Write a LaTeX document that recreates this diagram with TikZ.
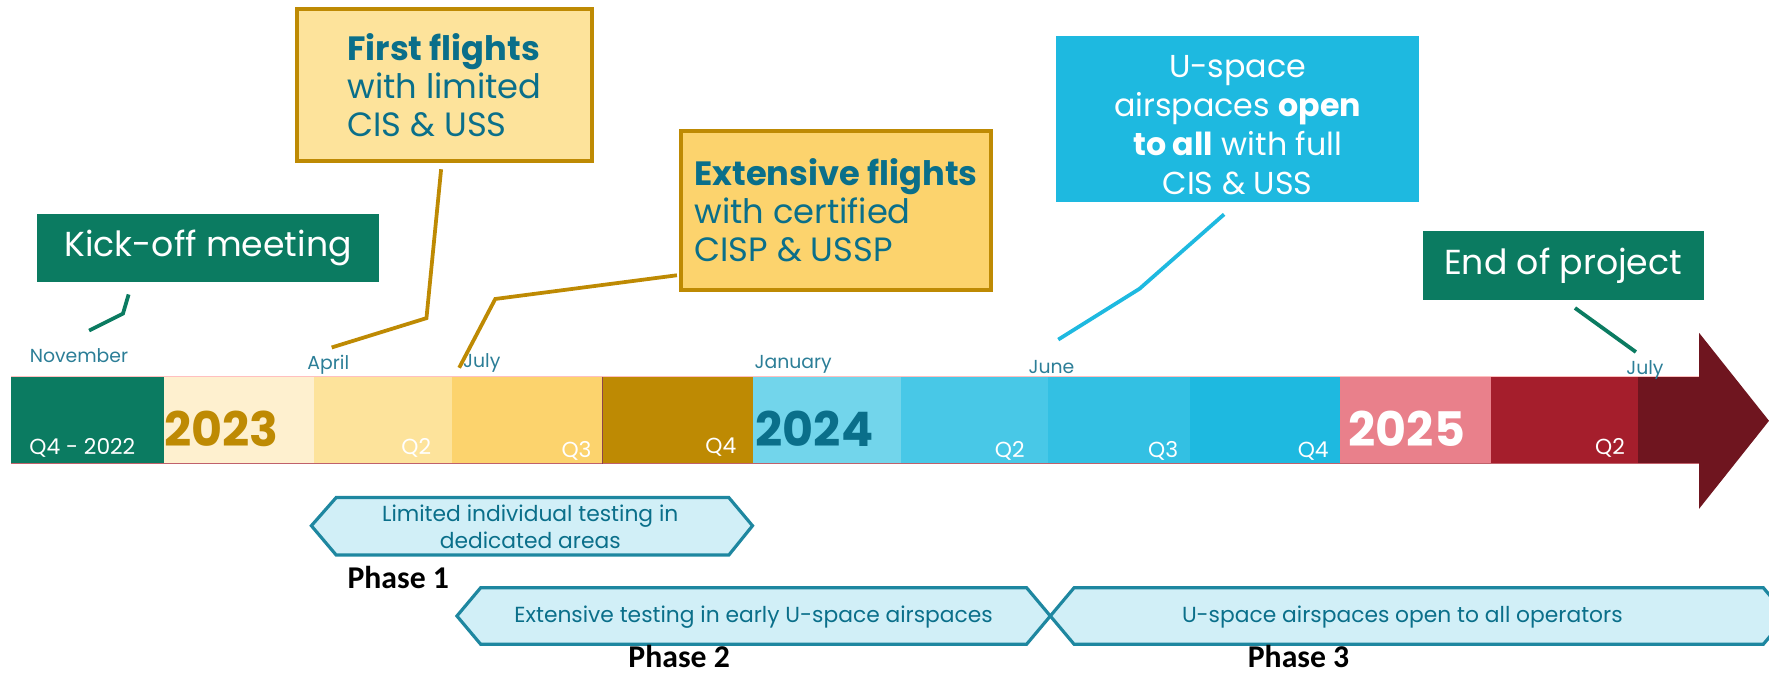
\documentclass[tikz,border=0pt]{standalone}
\usepackage{fontspec}
\setmainfont{Poppins}
\newfontfamily\phasefont{Carlito}
\usetikzlibrary{%
  calc,%
  positioning%
}
\definecolor{kgreen}{HTML}{0B7B61}
\definecolor{kgold}{HTML}{BE8A03}
\definecolor{ya}{HTML}{FEF0CF}
\definecolor{yb}{HTML}{FDE39B}
\definecolor{yc}{HTML}{FCD36D}
\definecolor{ba}{HTML}{72D5EB}
\definecolor{bb}{HTML}{48C8E7}
\definecolor{bc}{HTML}{33C0E3}
\definecolor{bd}{HTML}{1EB9E0}
\definecolor{ra}{HTML}{E9808B}
\definecolor{rb}{HTML}{A51E2C}
\definecolor{rc}{HTML}{6F151F}
\definecolor{kteal}{HTML}{0A6F8A}
\definecolor{mteal}{HTML}{2C7E97}
\definecolor{hexfill}{HTML}{D1EFF7}
\definecolor{hexline}{HTML}{1E87A0}
\tikzset{
  month/.style={text=mteal, font=\fontsize{9.5}{10}\selectfont, inner sep=0},
  qlabel/.style={text=white, font=\fontsize{11}{12}\selectfont, inner sep=0},
  year/.style={font=\fontsize{24}{25}\selectfont\bfseries, inner sep=0},
  greenbox/.style={fill=kgreen, text=white, font=\fontsize{17.5}{18}\selectfont},
  goldbox/.style={fill=#1, draw=kgold, line width=2pt, text=kteal, align=left,
    font=\fontsize{17}{19.3}\selectfont},
  callout/.style={line width=1.9pt},
  hex/.style={fill=hexfill, draw=hexline, line width=1.6pt},
  hextext/.style={text=kteal, align=center, font=\fontsize{11}{13.6}\selectfont},
  phase/.style={font=\phasefont\fontsize{16}{18}\selectfont\bfseries}
}
\begin{document}
\begin{tikzpicture}[x=0.02cm,y=-0.02cm]
\useasboundingbox (0,0) rectangle (1568,597);
\fill[kgreen] (10,334) rectangle (145,411);
\fill[ya] (145,334) rectangle (278,411);
\fill[yb] (278,334) rectangle (401,411);
\fill[yc] (401,334) rectangle (534,411);
\fill[kgold] (534,334) rectangle (667,411);
\fill[ba] (667,334) rectangle (799,411);
\fill[bb] (799,334) rectangle (929,411);
\fill[bc] (929,334) rectangle (1055,411);
\fill[bd] (1055,334) rectangle (1188,411);
\fill[ra] (1188,334) rectangle (1322,411);
\fill[rb] (1322,334) rectangle (1452,411);
\fill[rc] (1452,334) -- (1506,334) -- (1506,295) -- (1568,373) -- (1506,451)
  -- (1506,411) -- (1452,411) -- cycle;
\draw[red!25!white, line width=0.6pt] (10,334) -- (1506,334);
\draw[rb!70!white, line width=0.6pt] (10,411) -- (1506,411);
\draw[rc!80!white, line width=0.6pt] (534,334) -- (534,411);

\node[qlabel] (q4old) at (73,397) {Q4 - 2022};
\node[year, text=kgold] (y23) at (196,380) {2023};
\node[qlabel] (q2a) at (369,397) {Q2};
\node[qlabel] (q3a) at (511,400) {Q3};
\node[qlabel] (q4a) at (639,396) {Q4};
\node[year, text=kteal] (y24) at (722,380) {2024};
\node[qlabel] (q2b) at (895,400) {Q2};
\node[qlabel] (q3b) at (1031,400) {Q3};
\node[qlabel] (q4b) at (1164,400) {Q4};
\node[year, text=white] (y25) at (1247,380) {2025};
\node[qlabel] (q2c) at (1427,397) {Q2};

\node[month] (nov) at (70,315) {November};
\node[month] (apr) at (291,323) {April};
\node[month] (jula) at (427,322) {July};
\node[month] (jan) at (703,323) {January};
\node[month] (jun) at (932,325) {June};
\node[month] (julb) at (1458,328) {July};

\node[greenbox, minimum width=6.06cm, minimum height=1.2cm] (kick) at (184.5,220) {Kick-off meeting};
\node[goldbox=yb, minimum width=5.24cm, minimum height=2.7cm] (first) at (394,75.5)
  {\textbf{First flights}\\with limited\\CIS \& USS};
\node[goldbox=yc, minimum width=5.48cm, minimum height=2.82cm, inner sep=1pt] (ext) at (741,186.5)
  {\textbf{Extensive flights}\\with certified\\CISP \& USSP};
\node[fill=bd, minimum width=6.44cm, minimum height=2.94cm] (open) at (1097,105.5) {};
\node[text=white, align=center, font=\fontsize{16}{19.6}\selectfont] (opentxt) at (1097,111)
  {U-space\\airspaces \textbf{open}\\\textbf{to all} with full\\CIS \& USS};
\node[greenbox, minimum width=4.98cm, minimum height=1.22cm] (end) at (1385.5,235.5) {End of project};

\coordinate (kickA) at (114,261);
\coordinate (kickB) at (79,293);
\coordinate (firstA) at (391,150);
\coordinate (firstB) at (294,308);
\coordinate (extA) at (600,244);
\coordinate (extB) at (407,326);
\coordinate (openA) at (1085,190);
\coordinate (openB) at (938,301);
\coordinate (endA) at (1396,273);
\coordinate (endB) at (1450,312);
\draw[callout, kgreen] (kickA) -- (109,278) -- (kickB);
\draw[callout, kgold] (firstA) -- (378,282) -- (firstB);
\draw[callout, kgold] (extA) -- (439,265) -- (extB);
\draw[callout, bd] (openA) -- (1010,256) -- (openB);
\draw[callout, kgreen] (endA) -- (endB);

\draw[hex] (276,466) -- (298,441) -- (646,441) -- (667,466) -- (646,492) -- (298,492) -- cycle;
\draw[hex] (405,546) -- (426,521) -- (910,521) -- (931,546) -- (910,571) -- (426,571) -- cycle;
\draw[hex] (931,546) -- (952,521) -- (1563,521) -- (1584,546) -- (1563,571) -- (952,571) -- cycle;
\node[hextext] (ph1) at (470,467) {Limited individual testing in\\dedicated areas};
\node[hextext] (ph2) at (668,547) {Extensive testing in early U-space airspaces};
\node[hextext] (ph3) at (1243,547) {U-space airspaces open to all operators};
\node[phase] (lab1) at (353,512) {Phase 1};
\node[phase] (lab2) at (602,582) {Phase 2};
\node[phase] (lab3) at (1151,582) {Phase 3};
\end{tikzpicture}
\end{document}
